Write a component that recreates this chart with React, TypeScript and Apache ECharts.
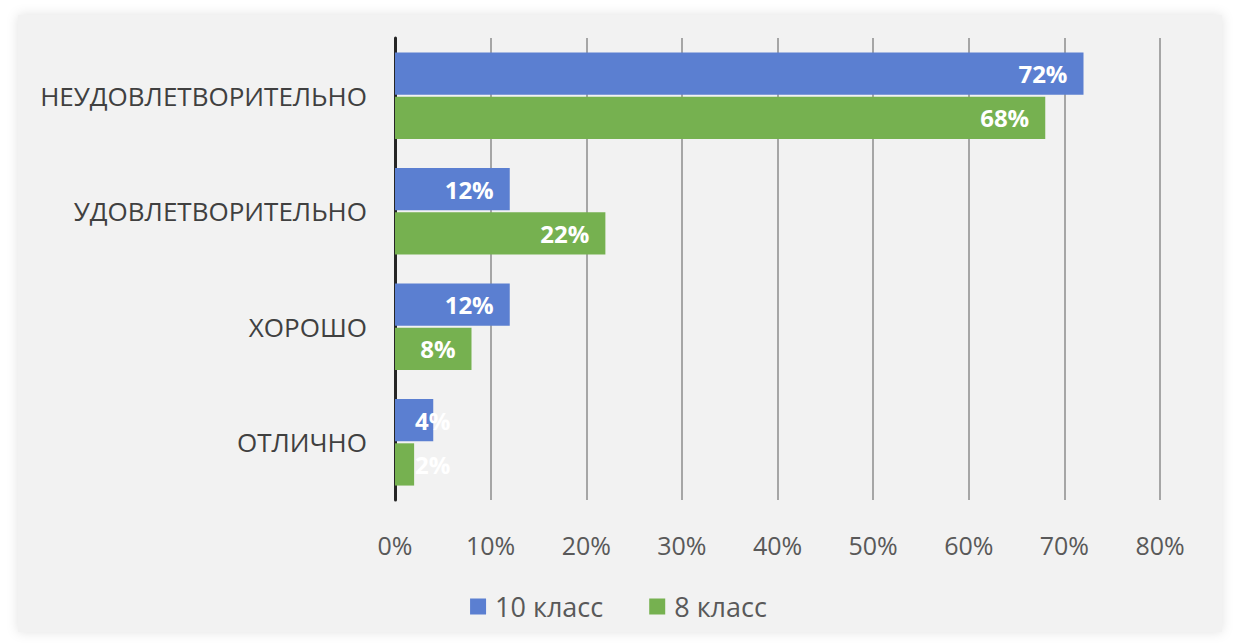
import React, { useEffect, useRef } from "react";
import * as echarts from "echarts";

const categories = ["НЕУДОВЛЕТВОРИТЕЛЬНО", "УДОВЛЕТВОРИТЕЛЬНО", "ХОРОШО", "ОТЛИЧНО"];
const seriesNames = ["10 класс", "8 класс"];
const class10 = [72, 12, 12, 4];
const class8 = [68, 22, 8, 2];
const xTicks = { min: 0, max: 80, interval: 10 };

const FONT = "'Open Sans', 'Noto Sans', sans-serif";

function makeData(values: number[]) {
  return values.map((v) => ({
    value: v,
    label: v < 5 ? { position: "insideLeft", distance: 20 } : { position: "insideRight", distance: 16 },
  }));
}

export default function App() {
  const ref = useRef<HTMLDivElement>(null);
  useEffect(() => {
    document.body.style.margin = "0";
    const chart = echarts.init(ref.current!, null, { renderer: "svg" });
    const barLabel = {
      show: true,
      color: "#ffffff",
      fontSize: 24,
      fontWeight: "bold",
      fontFamily: FONT,
      formatter: "{c}%",
    };
    chart.setOption({
      animation: false,
      backgroundColor: "#ffffff",
      graphic: [
        {
          type: "rect",
          z: -10,
          silent: true,
          shape: { x: 18, y: 15, width: 1204, height: 617 },
          style: { fill: "#f2f2f2", shadowBlur: 12, shadowColor: "rgba(0,0,0,0.12)" },
        },
      ],
      grid: { left: 395, right: 77, top: 38, bottom: 144 },
      legend: {
        data: seriesNames,
        top: 588,
        left: "center",
        itemWidth: 16,
        itemHeight: 16,
        itemGap: 46,
        icon: "rect",
        textStyle: { fontSize: 27, color: "#595959", fontFamily: FONT, padding: [0, 0, 0, 4] },
      },
      xAxis: {
        type: "value",
        min: xTicks.min,
        max: xTicks.max,
        interval: xTicks.interval,
        axisLine: { show: false },
        axisTick: { show: false },
        axisLabel: { formatter: "{value}%", fontSize: 25, color: "#595959", margin: 32, fontFamily: FONT },
        splitLine: { show: true, lineStyle: { color: "#a6a6a6", width: 2 } },
      },
      yAxis: {
        type: "category",
        data: categories,
        inverse: true,
        axisLine: { show: true, lineStyle: { color: "#262626", width: 3 } },
        axisTick: { show: false },
        axisLabel: { fontSize: 26, color: "#404040", margin: 28, fontFamily: FONT },
      },
      series: [
        {
          name: seriesNames[0],
          type: "bar",
          data: makeData(class10),
          itemStyle: { color: "#5b7fd1" },
          barCategoryGap: "25%",
          barGap: "5%",
          label: barLabel,
        },
        {
          name: seriesNames[1],
          type: "bar",
          data: makeData(class8),
          itemStyle: { color: "#76b150" },
          barCategoryGap: "25%",
          barGap: "5%",
          label: barLabel,
        },
      ],
    });
    return () => chart.dispose();
  }, []);
  return <div ref={ref} style={{ width: 1237, height: 644 }} />;
}
